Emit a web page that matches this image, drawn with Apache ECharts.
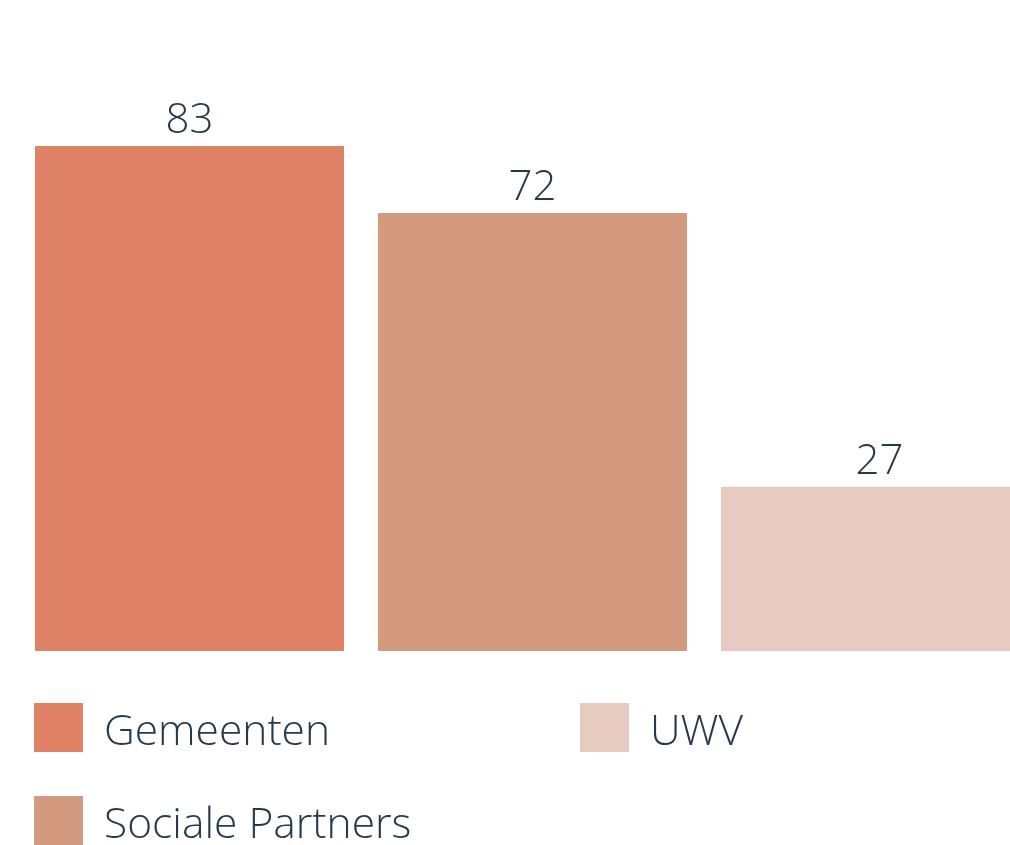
<!DOCTYPE html>
<html>
<head>
<meta charset="utf-8">
<script src="https://cdn.jsdelivr.net/npm/echarts@6/dist/echarts.min.js"></script>
<style>
html,body{margin:0;padding:0;background:#fff;overflow:hidden;}
#chart{width:1065px;height:845px;}
</style>
</head>
<body>
<div id="chart"></div>
<script>
const categories = ['Gemeenten', 'Sociale Partners', 'UWV'];
const values = [83, 72, 27];
const colors = ['#e08266', '#d49a80', '#e8cbc0'];
const legendPos = [{left: 34, top: 703}, {left: 34, top: 796}, {left: 580, top: 703}];
const labelShift = [0, 0, 4];

const textColor = '#253a4c';
const fontFamily = '"Open Sans", "Noto Sans", sans-serif';

const chart = echarts.init(document.getElementById('chart'));
const series = categories.map((name, i) => ({
  name: name,
  type: 'bar',
  stack: 'all',
  barWidth: 309,
  data: categories.map((c, j) => j === i ? values[i] : null),
  itemStyle: {color: colors[i]},
  label: {
    show: true,
    position: 'top',
    distance: 4,
    offset: [labelShift[i], 0],
    color: textColor,
    fontFamily: fontFamily,
    fontWeight: 300,
    fontSize: 42
  }
}));

chart.setOption({
  animation: false,
  grid: {left: 18, right: 18, top: 42.5, bottom: 194},
  xAxis: {
    type: 'category',
    data: categories,
    axisLine: {show: false},
    axisTick: {show: false},
    axisLabel: {show: false}
  },
  yAxis: {
    type: 'value',
    min: 0,
    max: 100,
    show: false,
    splitLine: {show: false}
  },
  legend: categories.map((name, i) => ({
    data: [name],
    left: legendPos[i].left,
    top: legendPos[i].top,
    itemWidth: 49,
    itemHeight: 49,
    icon: 'rect',
    selectedMode: false,
    padding: 0,
    formatter: '{t|{name}}',
    textStyle: {
      color: textColor,
      fontFamily: fontFamily,
      fontWeight: 300,
      fontSize: 42.5,
      rich: {
        t: {
          color: textColor,
          fontFamily: fontFamily,
          fontWeight: 300,
          fontSize: 42.5,
          padding: [10, 0, 0, 16]
        }
      }
    }
  })),
  series: series
});
</script>
</body>
</html>
